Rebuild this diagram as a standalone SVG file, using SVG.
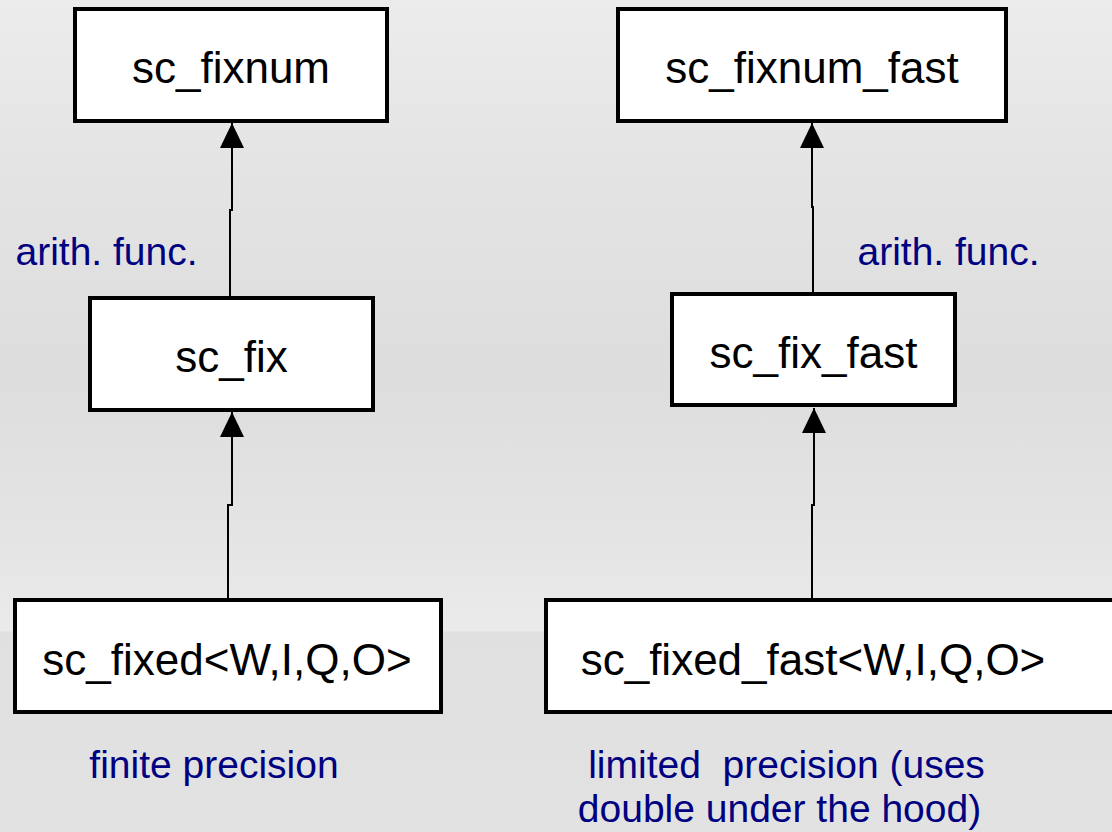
<svg xmlns="http://www.w3.org/2000/svg" width="1112" height="832" viewBox="0 0 1112 832">
  <defs>
    <linearGradient id="bg" x1="0" y1="0" x2="0" y2="1">
      <stop offset="0" stop-color="#ececec"/>
      <stop offset="0.2" stop-color="#e4e4e4"/>
      <stop offset="0.45" stop-color="#dddddd"/>
      <stop offset="0.66" stop-color="#e5e5e5"/>
      <stop offset="0.758" stop-color="#ebebeb"/>
      <stop offset="0.76" stop-color="#e0e0e0"/>
      <stop offset="1" stop-color="#e2e2e2"/>
    </linearGradient>
    <marker id="arrow" viewBox="0 0 25 24" refX="25" refY="12" markerWidth="25" markerHeight="24" markerUnits="userSpaceOnUse" orient="auto">
      <path d="M0,0 L25,12 L0,24 Z" fill="#000"/>
    </marker>
  </defs>
  <style>
    .box { fill: #ffffff; stroke: #000000; stroke-width: 4; }
    .name { font-family: "Liberation Sans", Arial, sans-serif; font-size: 44px; fill: #000000; text-anchor: middle; }
    .note { font-family: "Liberation Sans", Arial, sans-serif; font-size: 39px; fill: #000080; text-anchor: middle; white-space: pre; }
    .conn { fill: none; stroke: #000000; stroke-width: 2; marker-end: url(#arrow); }
  </style>
  <rect x="0" y="0" width="1112" height="832" fill="url(#bg)"/>

  <g id="connectors">
    <path class="conn" d="M230,296 V210 H232 V123"/>
    <path class="conn" d="M228,598 V505 H232 V412"/>
    <path class="conn" d="M813,292 V207 H812 V123"/>
    <path class="conn" d="M812,598 V505 H814 V408"/>
  </g>

  <g id="sc_fixnum">
    <rect class="box" x="75" y="9" width="312" height="112"/>
    <text class="name" x="231" y="83">sc_fixnum</text>
  </g>
  <g id="sc_fix">
    <rect class="box" x="90" y="298" width="283" height="112"/>
    <text class="name" x="231.5" y="372">sc_fix</text>
  </g>
  <g id="sc_fixed">
    <rect class="box" x="15" y="600" width="426" height="112"/>
    <text class="name" x="227" y="675">sc_fixed&lt;W,I,Q,O&gt;</text>
  </g>
  <g id="sc_fixnum_fast">
    <rect class="box" x="618" y="9" width="388" height="112"/>
    <text class="name" x="812" y="83">sc_fixnum_fast</text>
  </g>
  <g id="sc_fix_fast">
    <rect class="box" x="672" y="294" width="283" height="111"/>
    <text class="name" x="813.5" y="368">sc_fix_fast</text>
  </g>
  <g id="sc_fixed_fast">
    <rect class="box" x="546" y="600" width="580" height="112"/>
    <text class="name" x="813" y="675">sc_fixed_fast&lt;W,I,Q,O&gt;</text>
  </g>

  <g id="labels">
    <text class="note" x="106.5" y="265">arith. func.</text>
    <text class="note" x="948.5" y="265">arith. func.</text>
    <text class="note" x="214" y="778">finite precision</text>
    <text class="note" x="786.5" y="778" xml:space="preserve">limited  precision (uses</text>
    <text class="note" x="779.5" y="822">double under the hood)</text>
  </g>
</svg>
